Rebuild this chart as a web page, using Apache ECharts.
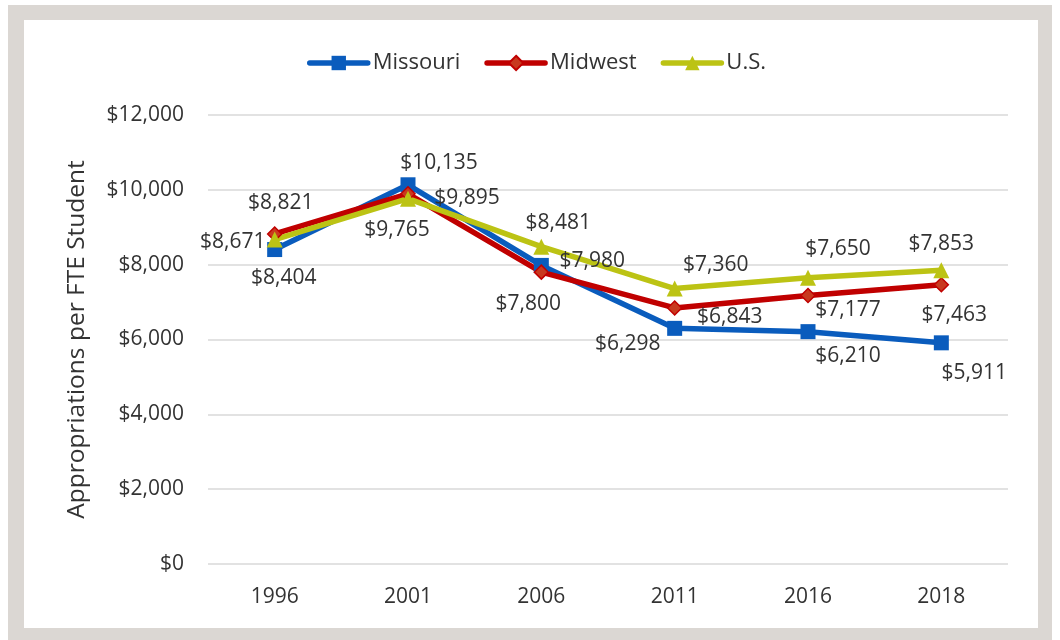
<!DOCTYPE html>
<html>
<head>
<meta charset="utf-8">
<script src="https://cdn.jsdelivr.net/npm/echarts@6/dist/echarts.min.js"></script>
<style>
  html, body { margin: 0; padding: 0; background: #ffffff; }
  #frame { position: absolute; left: 8px; top: 5px; width: 1044px; height: 635px; background: #dbd7d3; }
  #panel { position: absolute; left: 24px; top: 20px; width: 1014px; height: 608px; background: #ffffff; }
  #chart { position: absolute; left: 0; top: 0; width: 1060px; height: 640px; }
</style>
</head>
<body>
<div id="frame"></div>
<div id="panel"></div>
<div id="chart"></div>
<script>
// Appropriations per FTE student, selected years
const years = ['1996', '2001', '2006', '2011', '2016', '2018'];
const missouri = [8404, 10135, 7980, 6298, 6210, 5911];
const midwest  = [8821, 9895, 7800, 6843, 7177, 7463];
const us       = [8671, 9765, 8481, 7360, 7650, 7853];

// Offsets (px) of each value label from its point, per series
const missouriLabelOffsets = [[9, 28], [31, -22], [51, -4], [-47, 16], [40, 24], [33, 30]];
const midwestLabelOffsets  = [[6, -31], [59, 4], [-13, 32], [55, 9], [40, 15], [13, 30]];
const usLabelOffsets       = [[-42, 2], [-11, 31], [17, -24], [41, -24], [30, -29], [0, -26]];

const FONT = '"Open Sans", "Noto Sans", sans-serif';
const TEXT = '#333333';

function money(v) {
  return '$' + Number(v).toLocaleString('en-US');
}

function withLabels(values, offsets) {
  return values.map((v, i) => ({
    value: v,
    label: { offset: offsets[i] }
  }));
}

function lineSeries(name, values, offsets, color, symbol, size, itemStyle) {
  return {
    name: name,
    type: 'line',
    data: withLabels(values, offsets),
    symbol: symbol,
    symbolSize: size,
    lineStyle: { color: color, width: 5.5, cap: 'round', join: 'round' },
    itemStyle: itemStyle,
    label: {
      show: true,
      position: 'inside',
      align: 'center',
      verticalAlign: 'middle',
      formatter: p => money(p.value),
      color: TEXT,
      fontFamily: FONT,
      fontSize: 21
    },
    emphasis: { disabled: true },
    animation: false
  };
}

const chart = echarts.init(document.getElementById('chart'), null, { renderer: 'canvas' });

chart.setOption({
  backgroundColor: 'transparent',
  animation: false,
  textStyle: { fontFamily: FONT },
  legend: {
    data: ['Missouri', 'Midwest', 'U.S.'],
    left: 302,
    top: 47,
    itemWidth: 58,
    itemHeight: 18,
    itemGap: 24,
    lineStyle: { width: 5.5, cap: 'round' },
    textStyle: { color: TEXT, fontFamily: FONT, fontSize: 22 }
  },
  grid: { left: 208, right: 52, top: 115, bottom: 76 },
  xAxis: {
    type: 'category',
    data: years,
    boundaryGap: true,
    axisLine: { show: false },
    axisTick: { show: false },
    axisLabel: { color: TEXT, fontFamily: FONT, fontSize: 21, margin: 23 }
  },
  yAxis: {
    type: 'value',
    min: 0,
    max: 12000,
    interval: 2000,
    name: 'Appropriations per FTE Student',
    nameLocation: 'middle',
    nameRotate: 90,
    nameGap: 118,
    nameTextStyle: { color: TEXT, fontFamily: FONT, fontSize: 24.5 },
    axisLine: { show: false },
    axisTick: { show: false },
    axisLabel: { color: TEXT, fontFamily: FONT, fontSize: 21, margin: 24, formatter: v => money(v) },
    splitLine: { lineStyle: { color: '#d9d9d9', width: 1.5 } }
  },
  series: [
    lineSeries('Missouri', missouri, missouriLabelOffsets, '#0a5cbd', 'rect', 15,
      { color: '#0a5cbd' }),
    lineSeries('Midwest', midwest, midwestLabelOffsets, '#c00000', 'diamond', 14,
      { color: '#c8391f', borderColor: '#c00000', borderWidth: 1.5 }),
    lineSeries('U.S.', us, usLabelOffsets, '#bcc314', 'triangle', 16,
      { color: '#bcc314' })
  ]
});
</script>
</body>
</html>
